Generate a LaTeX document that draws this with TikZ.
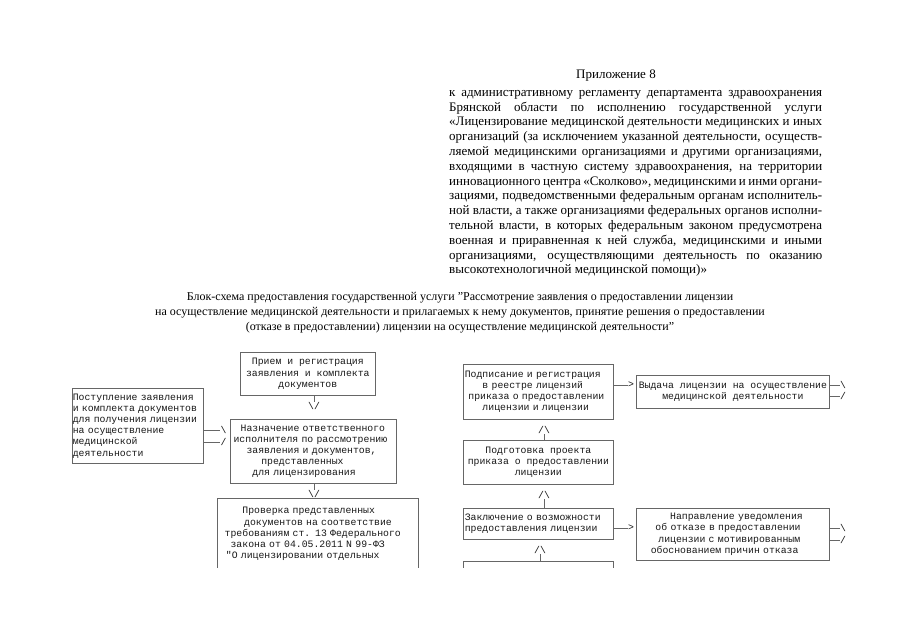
\documentclass[tikz,border=0pt]{standalone}
\usepackage{fontspec}
\setmainfont{Liberation Serif}
\newfontfamily\typefont{Liberation Mono}
\usetikzlibrary{positioning}

% indent in typewriter cells
\newcommand{\ind}[1]{\hspace*{#1\dimexpr0.6em\relax}}

\tikzset{
  box/.style={draw=black!60, line width=0.7pt, anchor=north west,
    inner xsep=1.5pt, inner ysep=0pt, text=black!90,
    font=\typefont\fontsize{9.8}{11.2}\selectfont},
  glyph/.style={inner sep=0pt, text=black!90,
    font=\typefont\fontsize{9.8}{11.2}\selectfont},
  link/.style={draw=black!60, line width=0.7pt}
}

\begin{document}
\begin{tikzpicture}[x=1pt,y=-1pt]

\fill[white] (0,0) rectangle (905,640);
\useasboundingbox (0,0) rectangle (905,640);

\begin{scope}
\clip (0,0) rectangle (905,567);

% Header
\node[font=\fontsize{13}{14.8}\selectfont] (appx) at (616,76) {Приложение 8};
\node[anchor=north west, inner sep=0pt, text width=373pt, align=justify,
      font=\fontsize{13}{14.8}\selectfont] (regl) at (449,90)
{к административному регламенту департамента здравоохранения\linebreak
Брянской области по исполнению государственной услуги\linebreak
«Лицензирование медицинской деятельности медицинских и иных\linebreak
организаций (за исключением указанной деятельности, осуществ-\linebreak
ляемой медицинскими организациями и другими организациями,\linebreak
входящими в частную систему здравоохранения, на территории\linebreak
инновационного центра «Сколково», медицинскими и инми органи-\linebreak
зациями, подведомственными федеральным органам исполнитель-\linebreak
ной власти, а также организациями федеральных органов исполни-\linebreak
тельной власти, в которых федеральным законом предусмотрена\linebreak
военная и приравненная к ней служба, медицинскими и иными\linebreak
организациями, осуществляющими деятельность по оказанию\linebreak
высокотехнологичной медицинской помощи)»};

% Title
\node[align=center, font=\fontsize{12}{15}\selectfont] (title) at (460,313)
{Блок-схема предоставления государственной услуги "Рассмотрение заявления о предоставлении лицензии\\
на осуществление медицинской деятельности и прилагаемых к нему документов, принятие решения о предоставлении\\
(отказе в предоставлении) лицензии на осуществление медицинской деятельности"};

% Left column
\node[box, text width=130pt, inner xsep=0.5pt, minimum height=75pt, align=left]
  (source) at (72,388)
{Поступление заявления\\и комплекта документов\\для получения лицензии\\на осуществление\\медицинской\\деятельности};

\node[box, minimum width=135pt, minimum height=43pt, align=center]
  (reception) at (240,352)
{Прием и регистрация\\заявления и комплекта\\документов};

\node[box, text width=163pt, minimum height=64pt, align=left]
  (assign) at (230,419)
{\ind{1.5}Назначение ответственного\\\ind{0.3}исполнителя по рассмотрению\\\ind{2.5}заявления и документов,\\\ind{5}представленных\\\ind{3.5}для лицензирования};

\node[box, draw=none, text width=198pt, inner ysep=9pt, align=left]
  (check) at (217,498)
{\ind{4}Проверка представленных\\\ind{4.3}документов на соответствие\\\ind{1}требованиям ст. 13 Федерального\\\ind{2}закона от 04.05.2011 N 99-ФЗ\\\ind{1.2}"О лицензировании отдельных};
\draw[link] (check.north west) rectangle ([yshift=-40pt]check.south east);

% Right column
\node[box, text width=147pt, minimum height=55pt, align=left]
  (sign) at (463,364)
{Подписание и регистрация\\\ind{3}в реестре лицензий\\\ind{0.6}приказа о предоставлении\\\ind{3}лицензии и лицензии};

\node[box, minimum width=193pt, minimum height=33pt, align=center]
  (issue) at (636,375)
{Выдача лицензии на осуществление\\медицинской деятельности};

\node[box, minimum width=150pt, minimum height=44pt, align=center]
  (prepare) at (463,440)
{Подготовка проекта\\приказа о предоставлении\\лицензии};

\node[box, text width=147pt, minimum height=31pt, align=left]
  (conclude) at (463,508)
{Заключение о возможности\\предоставления лицензии};

\node[box, text width=190pt, minimum height=52pt, align=left]
  (refuse) at (636,508)
{\ind{5.5}Направление уведомления\\\ind{3}об отказе в предоставлении\\\ind{3.5}лицензии с мотивированным\\\ind{2.2}обоснованием причин отказа};

\node[box, minimum width=150pt, minimum height=30pt] (nextstep) at (463,561) {};

% Arrow glyphs
\node[glyph] (dn1) at (314,406) {\textbackslash/};
\node[glyph] (dn2) at (314,494) {\textbackslash/};
\node[glyph] (up1) at (544,430) {/\textbackslash};
\node[glyph] (up2) at (544,495) {/\textbackslash};
\node[glyph] (up3) at (540,550) {/\textbackslash};
\node[glyph] (sa1) at (223.5,430) {\textbackslash};
\node[glyph] (sa2) at (223.5,442) {/};
\node[glyph] (gi) at (631,385) {>};
\node[glyph] (gr) at (631,528) {>};
\node[glyph] (ia1) at (843,385) {\textbackslash};
\node[glyph] (ia2) at (843,396) {/};
\node[glyph] (ra1) at (843,528) {\textbackslash};
\node[glyph] (ra2) at (843,540) {/};

% Connectors
\draw[link] (reception.south -| dn1) -- (dn1.north);
\draw[link] (assign.south -| dn2) -- (dn2.north);
\draw[link] (prepare.north -| up1) -- (up1.south);
\draw[link] (conclude.north -| up2) -- (up2.south);
\draw[link] (nextstep.north -| up3) -- (up3.south);
\draw[link] (source.east |- sa1) -- (sa1.west);
\draw[link] (source.east |- sa2) -- (sa2.west);
\draw[link] (sign.east |- gi) -- (gi.west);
\draw[link] (conclude.east |- gr) -- (gr.west);
\draw[link] (issue.east |- ia1) -- (ia1.west);
\draw[link] (issue.east |- ia2) -- (ia2.west);
\draw[link] (refuse.east |- ra1) -- (ra1.west);
\draw[link] (refuse.east |- ra2) -- (ra2.west);

\end{scope}
\end{tikzpicture}
\end{document}
